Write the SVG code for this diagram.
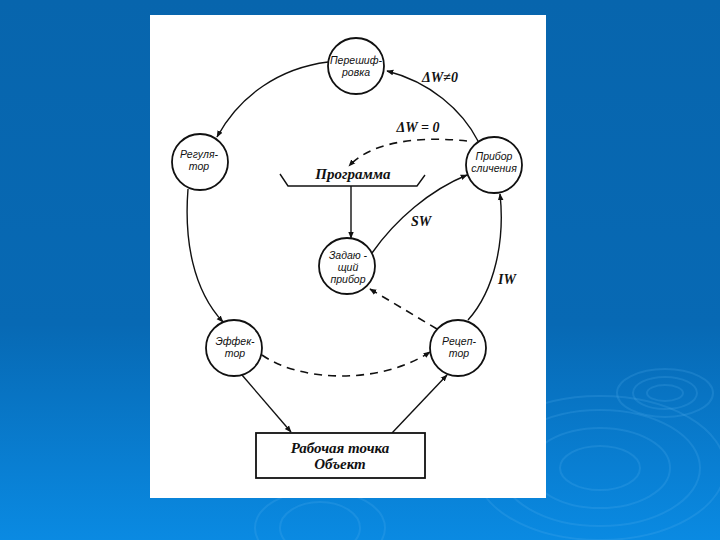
<svg xmlns="http://www.w3.org/2000/svg" width="720" height="540" viewBox="0 0 720 540">
<defs>
<linearGradient id="bg" x1="0" y1="0" x2="0" y2="1">
<stop offset="0" stop-color="#0765ad"/>
<stop offset="0.6" stop-color="#0769b4"/>
<stop offset="1" stop-color="#0a8ae2"/>
</linearGradient>
<marker id="ah" viewBox="0 0 10 10" refX="9" refY="5" markerWidth="7" markerHeight="7" orient="auto" markerUnits="userSpaceOnUse">
<path d="M0,1 L10,5 L0,9 z" fill="#111"/>
</marker>
<style>
.node circle{fill:#fff;stroke:#111;stroke-width:1.8}
.nt{font-family:"Liberation Sans",Arial,sans-serif;font-style:italic;font-size:10.5px;fill:#111;text-anchor:middle}
.lbl{font-family:"Liberation Serif","Times New Roman",serif;font-style:italic;font-weight:bold;font-size:14px;fill:#111;text-anchor:middle}
.big{font-size:15px}
.c{fill:none;stroke:#111;stroke-width:1.4;marker-end:url(#ah)}
.d{stroke-dasharray:8,6;stroke-width:1.6}
.rip{fill:none;stroke:#5ab4f0;stroke-opacity:0.2;stroke-width:2}
</style>
</defs>
<rect x="0" y="0" width="720" height="540" fill="url(#bg)"/>
<g id="ripples">
<ellipse class="rip" cx="665" cy="393" rx="18" ry="8"/>
<ellipse class="rip" cx="665" cy="393" rx="32" ry="16"/>
<ellipse class="rip" cx="665" cy="393" rx="48" ry="24"/>
<ellipse class="rip" cx="600" cy="468" rx="40" ry="22"/>
<ellipse class="rip" cx="600" cy="468" rx="70" ry="40"/>
<ellipse class="rip" cx="600" cy="468" rx="100" ry="58"/>
<ellipse class="rip" cx="600" cy="468" rx="125" ry="72"/>
<ellipse class="rip" cx="320" cy="528" rx="40" ry="26"/>
<ellipse class="rip" cx="320" cy="528" rx="65" ry="38"/>
</g>
<rect x="150" y="15" width="396" height="483" fill="#fff"/>
<g id="connectors">
<path class="c" d="M478,141 C462,110 430,82 387,71"/>
<path class="c" d="M328,62 C280,68 240,95 217,137"/>
<path class="c" d="M188,189 C184,240 193,290 223,322"/>
<path class="c" d="M242,375 L291,432"/>
<path class="c" d="M392,433 L447,375"/>
<path class="c" d="M468,320 C495,290 505,240 500,194"/>
<path class="c" d="M372,253 C395,220 430,190 467,175"/>
<path class="c" d="M351,186 L351,238"/>
<path class="c d" d="M262,355 C300,382 380,385 430,352"/>
<path class="c d" d="M437,329 L370,289"/>
<path class="c d" d="M467,141 C430,137 375,138 349,166"/>
</g>
<g id="programma">
<polyline points="280,174 288,186 417,186 425,175" fill="none" stroke="#111" stroke-width="1.4"/>
<text class="lbl big" x="353" y="179">Программа</text>
</g>
<g id="labels">
<text class="lbl" x="440" y="82">ΔW≠0</text>
<text class="lbl" x="418" y="132">ΔW = 0</text>
<text class="lbl" x="421" y="226">SW</text>
<text class="lbl" x="507" y="284">IW</text>
</g>
<g id="n-pereshifrovka" class="node">
<circle cx="356" cy="66" r="28"/>
<text class="nt" x="356" y="64">Перешиф-</text>
<text class="nt" x="356" y="76">ровка</text>
</g>
<g id="n-regulyator" class="node">
<circle cx="200" cy="162" r="28"/>
<text class="nt" x="199" y="158">Регуля-</text>
<text class="nt" x="199" y="170">тор</text>
</g>
<g id="n-pribor-slicheniya" class="node">
<circle cx="494" cy="165" r="28"/>
<text class="nt" x="494" y="160">Прибор</text>
<text class="nt" x="494" y="172">сличения</text>
</g>
<g id="n-zadayushchiy" class="node">
<circle cx="347" cy="266" r="28"/>
<text class="nt" x="348" y="259">Задаю -</text>
<text class="nt" x="348" y="271">щий</text>
<text class="nt" x="348" y="283">прибор</text>
</g>
<g id="n-effektor" class="node">
<circle cx="234" cy="348" r="28"/>
<text class="nt" x="235" y="345">Эффек-</text>
<text class="nt" x="235" y="357">тор</text>
</g>
<g id="n-retseptor" class="node">
<circle cx="458" cy="348" r="28"/>
<text class="nt" x="459" y="345">Рецеп-</text>
<text class="nt" x="459" y="357">тор</text>
</g>
<g id="n-object" class="node">
<rect x="256" y="433" width="169" height="45" fill="#fff" stroke="#111" stroke-width="1.8"/>
<text class="lbl big" x="340" y="453">Рабочая точка</text>
<text class="lbl big" x="340" y="469">Объект</text>
</g>
</svg>
